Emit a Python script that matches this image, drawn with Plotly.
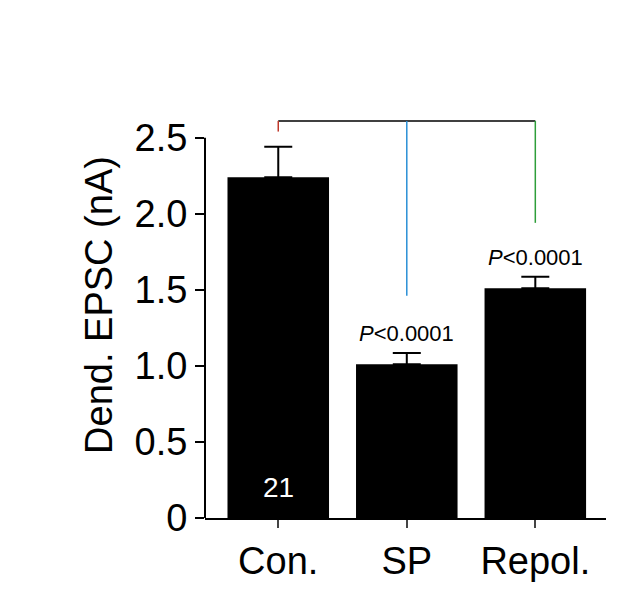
import plotly.graph_objects as go

categories = ["Con.", "SP", "Repol."]
means = [2.24, 1.01, 1.51]
errors = [0.20, 0.075, 0.075]
n_label = "21"
p_labels = ["", "<i>P</i><0.0001", "<i>P</i><0.0001"]
bracket_y = 2.61
drop_ends = [2.54, 1.46, 1.94]
drop_colors = ["#c0392b", "#2a8fd6", "#2e9e3a"]
yticks = [0, 0.5, 1.0, 1.5, 2.0, 2.5]
yticklabels = ["0", "0.5", "1.0", "1.5", "2.0", "2.5"]

xs = list(range(len(categories)))
fig = go.Figure()
fig.add_bar(x=xs, y=means, width=0.79, marker_color="black", marker_line_width=0,
            error_y=dict(type="data", array=errors, symmetric=False, arrayminus=[0]*3,
                         color="black", thickness=2, width=14))
font = "Liberation Sans, Arial, sans-serif"
fig.add_annotation(x=0, y=0.2, text=n_label, showarrow=False,
                   font=dict(color="white", size=28, family=font))
fig.add_shape(type="line", x0=0, x1=2, y0=bracket_y, y1=bracket_y, line=dict(color="black", width=1.5))
for x, e, c in zip(xs, drop_ends, drop_colors):
    fig.add_shape(type="line", x0=x, x1=x, y0=bracket_y, y1=e, line=dict(color=c, width=1.5))
for x, v, err, t in zip(xs, means, errors, p_labels):
    if t:
        fig.add_annotation(x=x, y=v + err + 0.13, text=t, showarrow=False,
                           font=dict(size=22, family=font, color="black"))
fig.add_shape(type="line", xref="paper", x0=0, x1=0, y0=0, y1=2.5, line=dict(color="black", width=2))
fig.update_layout(
    width=618, height=610, plot_bgcolor="white", paper_bgcolor="white",
    margin=dict(l=197, r=20, t=84, b=100), showlegend=False,
    font=dict(family=font, color="black"),
    xaxis=dict(range=[-0.57, 2.55], tickvals=xs, ticktext=categories, showline=True,
               linecolor="black", linewidth=2, ticks="outside", ticklen=8, tickwidth=2,
               tickfont=dict(size=38), showgrid=False, zeroline=False),
    yaxis=dict(range=[0, 2.8], tickvals=yticks, ticktext=yticklabels, showline=False,
               ticks="outside", ticklen=9, tickwidth=2, tickcolor="black",
               tickfont=dict(size=38), showgrid=False, zeroline=False,
               title=dict(text="Dend. EPSC (nA)", font=dict(size=38), standoff=10)),
)
fig.write_html("out.html")
